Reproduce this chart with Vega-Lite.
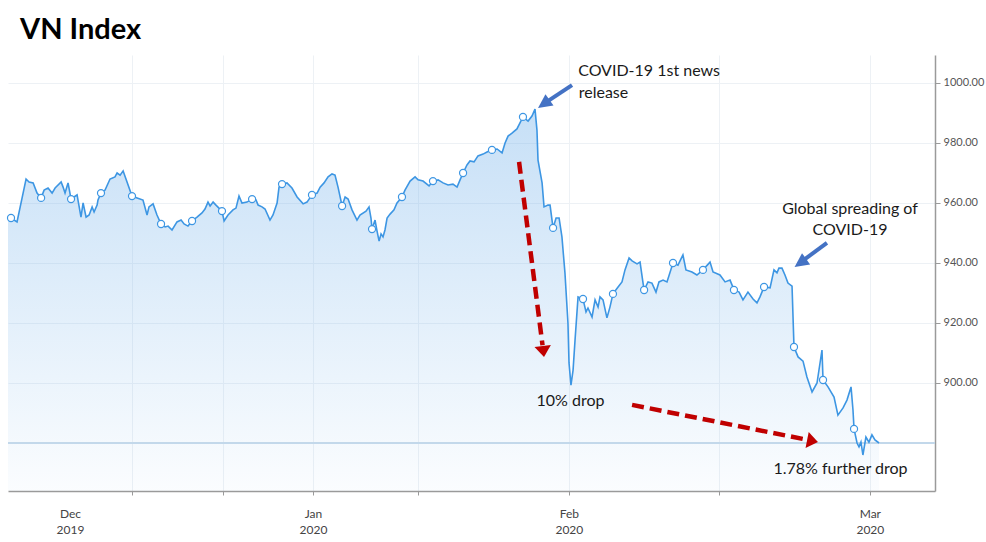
{
  "$schema": "https://vega.github.io/schema/vega-lite/v6.json",
  "width": 927,
  "height": 436,
  "autosize": {"type": "none"},
  "padding": {"left": 8, "top": 55, "right": 51, "bottom": 51},
  "background": "white",
  "config": {"view": {"stroke": null}, "font": "Lato"},
  "title": {"text": "VN Index", "anchor": "start", "frame": "group", "offset": 11, "baseline": "alphabetic", "dx": 12, "dy": 24, "fontSize": 29, "font": "Lato", "fontWeight": "bold", "color": "#000000"},
  "datasets": {
    "vn": [
      {"t": -20.27, "vn": 955.3}, {"t": -20.07, "vn": 955.0, "m": 1}, {"t": -19.67, "vn": 953.7}, {"t": -19.07, "vn": 968.0}, {"t": -18.87, "vn": 967.0}, {"t": -18.60, "vn": 966.7}, {"t": -18.34, "vn": 963.3}, {"t": -18.07, "vn": 961.7, "m": 1}, {"t": -17.87, "vn": 964.3}, {"t": -17.61, "vn": 965.0}, {"t": -17.34, "vn": 963.3}, {"t": -17.14, "vn": 965.0}, {"t": -16.74, "vn": 967.0}, {"t": -16.61, "vn": 965.3}, {"t": -16.48, "vn": 963.3}, {"t": -16.28, "vn": 966.7}, {"t": -16.08, "vn": 961.3, "m": 1}, {"t": -15.88, "vn": 962.0}, {"t": -15.68, "vn": 962.7}, {"t": -15.42, "vn": 955.3}, {"t": -15.28, "vn": 960.0}, {"t": -15.08, "vn": 955.3}, {"t": -14.88, "vn": 956.0}, {"t": -14.68, "vn": 958.7}, {"t": -14.55, "vn": 957.0}, {"t": -14.35, "vn": 959.3}, {"t": -14.29, "vn": 961.0}, {"t": -14.09, "vn": 963.3, "m": 1}, {"t": -13.82, "vn": 964.3}, {"t": -13.49, "vn": 968.0}, {"t": -13.16, "vn": 968.7}, {"t": -13.02, "vn": 970.0}, {"t": -12.82, "vn": 969.3}, {"t": -12.62, "vn": 970.7}, {"t": -12.36, "vn": 967.0}, {"t": -12.03, "vn": 962.3, "m": 1}, {"t": -11.69, "vn": 961.7}, {"t": -11.30, "vn": 961.0}, {"t": -11.03, "vn": 956.0}, {"t": -10.90, "vn": 958.7}, {"t": -10.63, "vn": 959.7}, {"t": -10.37, "vn": 956.0}, {"t": -10.10, "vn": 953.0, "m": 1}, {"t": -9.83, "vn": 952.0}, {"t": -9.63, "vn": 952.3}, {"t": -9.37, "vn": 951.0}, {"t": -9.04, "vn": 953.7}, {"t": -8.77, "vn": 954.3}, {"t": -8.57, "vn": 953.0}, {"t": -8.31, "vn": 952.3}, {"t": -8.04, "vn": 954.0, "m": 1}, {"t": -7.71, "vn": 955.3}, {"t": -7.38, "vn": 956.7}, {"t": -7.18, "vn": 958.0}, {"t": -6.98, "vn": 960.3}, {"t": -6.84, "vn": 959.0}, {"t": -6.64, "vn": 960.3}, {"t": -6.45, "vn": 959.3}, {"t": -6.05, "vn": 957.3, "m": 1}, {"t": -5.91, "vn": 954.0}, {"t": -5.65, "vn": 956.0}, {"t": -5.32, "vn": 957.7}, {"t": -5.12, "vn": 958.3}, {"t": -4.92, "vn": 962.3}, {"t": -4.72, "vn": 960.0}, {"t": -4.39, "vn": 960.3}, {"t": -4.05, "vn": 961.3, "m": 1}, {"t": -3.79, "vn": 961.0}, {"t": -3.65, "vn": 959.3}, {"t": -3.39, "vn": 958.7}, {"t": -3.19, "vn": 958.0}, {"t": -2.86, "vn": 954.3}, {"t": -2.66, "vn": 956.0}, {"t": -2.39, "vn": 960.0}, {"t": -2.26, "vn": 965.3}, {"t": -2.06, "vn": 966.3, "m": 1}, {"t": -1.73, "vn": 966.7}, {"t": -1.40, "vn": 965.0}, {"t": -1.06, "vn": 962.0}, {"t": -0.66, "vn": 959.7}, {"t": -0.40, "vn": 960.3}, {"t": -0.07, "vn": 962.7, "m": 1}, {"t": 0.27, "vn": 963.3}, {"t": 0.47, "vn": 965.3}, {"t": 0.73, "vn": 966.7}, {"t": 1.00, "vn": 968.7}, {"t": 1.26, "vn": 969.7}, {"t": 1.46, "vn": 969.3}, {"t": 1.66, "vn": 965.3}, {"t": 1.93, "vn": 959.0, "m": 1}, {"t": 2.13, "vn": 962.0}, {"t": 2.33, "vn": 961.3}, {"t": 2.59, "vn": 957.7}, {"t": 2.92, "vn": 954.3}, {"t": 3.12, "vn": 956.0}, {"t": 3.52, "vn": 957.3}, {"t": 3.72, "vn": 958.7}, {"t": 3.85, "vn": 955.0}, {"t": 3.92, "vn": 951.3, "m": 1}, {"t": 4.12, "vn": 954.3}, {"t": 4.25, "vn": 950.7}, {"t": 4.39, "vn": 947.3}, {"t": 4.52, "vn": 949.7}, {"t": 4.65, "vn": 948.7}, {"t": 4.78, "vn": 951.0}, {"t": 4.92, "vn": 955.0}, {"t": 5.12, "vn": 956.3}, {"t": 5.38, "vn": 957.7}, {"t": 5.58, "vn": 960.0}, {"t": 5.91, "vn": 962.0, "m": 1}, {"t": 6.11, "vn": 964.3}, {"t": 6.45, "vn": 967.3}, {"t": 6.78, "vn": 968.7}, {"t": 6.98, "vn": 967.7}, {"t": 7.31, "vn": 967.3}, {"t": 7.71, "vn": 965.7}, {"t": 7.97, "vn": 967.3, "m": 1}, {"t": 8.31, "vn": 967.7}, {"t": 8.64, "vn": 966.7}, {"t": 8.97, "vn": 966.0}, {"t": 9.30, "vn": 966.3}, {"t": 9.57, "vn": 965.3}, {"t": 9.77, "vn": 967.7}, {"t": 9.97, "vn": 970.0, "m": 1}, {"t": 10.23, "vn": 972.7}, {"t": 10.43, "vn": 974.0}, {"t": 10.70, "vn": 973.7}, {"t": 10.96, "vn": 975.7}, {"t": 11.30, "vn": 976.3}, {"t": 11.56, "vn": 977.0}, {"t": 11.89, "vn": 977.7, "m": 1}, {"t": 12.23, "vn": 978.0}, {"t": 12.56, "vn": 976.7}, {"t": 12.76, "vn": 980.0}, {"t": 12.96, "vn": 982.3}, {"t": 13.22, "vn": 983.3}, {"t": 13.55, "vn": 984.7}, {"t": 13.95, "vn": 988.7, "m": 1}, {"t": 14.29, "vn": 987.3}, {"t": 14.55, "vn": 989.0}, {"t": 14.75, "vn": 991.3}, {"t": 14.88, "vn": 984.3}, {"t": 14.95, "vn": 974.3}, {"t": 15.22, "vn": 966.7}, {"t": 15.35, "vn": 958.7}, {"t": 15.61, "vn": 959.3}, {"t": 15.75, "vn": 959.3}, {"t": 15.88, "vn": 954.3}, {"t": 15.95, "vn": 951.7, "m": 1}, {"t": 16.15, "vn": 955.0}, {"t": 16.35, "vn": 955.0}, {"t": 16.54, "vn": 948.7}, {"t": 16.74, "vn": 936.7}, {"t": 16.94, "vn": 920.0}, {"t": 17.01, "vn": 906.7}, {"t": 17.14, "vn": 899.3}, {"t": 17.28, "vn": 904.3}, {"t": 17.41, "vn": 914.3}, {"t": 17.61, "vn": 928.7}, {"t": 17.94, "vn": 928.0, "m": 1}, {"t": 18.14, "vn": 923.7}, {"t": 18.27, "vn": 925.0}, {"t": 18.54, "vn": 922.0}, {"t": 18.74, "vn": 927.7}, {"t": 18.94, "vn": 925.3}, {"t": 19.07, "vn": 928.7}, {"t": 19.27, "vn": 927.7}, {"t": 19.53, "vn": 921.7}, {"t": 19.73, "vn": 925.3}, {"t": 19.93, "vn": 929.7, "m": 1}, {"t": 20.27, "vn": 932.0}, {"t": 20.53, "vn": 933.7}, {"t": 20.73, "vn": 937.7}, {"t": 21.00, "vn": 941.7}, {"t": 21.20, "vn": 940.7}, {"t": 21.53, "vn": 939.7}, {"t": 21.73, "vn": 940.3}, {"t": 21.93, "vn": 933.3}, {"t": 22.00, "vn": 931.0, "m": 1}, {"t": 22.26, "vn": 933.7}, {"t": 22.52, "vn": 933.3}, {"t": 22.79, "vn": 930.3}, {"t": 22.99, "vn": 933.7}, {"t": 23.26, "vn": 934.3}, {"t": 23.52, "vn": 933.7}, {"t": 23.92, "vn": 940.0, "m": 1}, {"t": 24.25, "vn": 939.3}, {"t": 24.58, "vn": 942.7}, {"t": 24.78, "vn": 937.7}, {"t": 25.18, "vn": 937.0}, {"t": 25.51, "vn": 936.0}, {"t": 25.91, "vn": 937.7, "m": 1}, {"t": 26.38, "vn": 940.3}, {"t": 26.58, "vn": 937.0}, {"t": 27.04, "vn": 936.0}, {"t": 27.38, "vn": 933.7}, {"t": 27.71, "vn": 934.3}, {"t": 27.84, "vn": 932.7}, {"t": 27.97, "vn": 931.0, "m": 1}, {"t": 28.31, "vn": 930.3}, {"t": 28.57, "vn": 927.7}, {"t": 28.90, "vn": 930.3}, {"t": 29.24, "vn": 928.0}, {"t": 29.50, "vn": 926.7}, {"t": 29.70, "vn": 928.7}, {"t": 29.97, "vn": 932.0, "m": 1}, {"t": 30.37, "vn": 931.7}, {"t": 30.63, "vn": 937.7}, {"t": 30.83, "vn": 936.7}, {"t": 30.96, "vn": 938.3}, {"t": 31.16, "vn": 938.3}, {"t": 31.36, "vn": 936.0}, {"t": 31.56, "vn": 933.3}, {"t": 31.83, "vn": 932.3}, {"t": 31.96, "vn": 912.0, "m": 1}, {"t": 32.23, "vn": 908.7}, {"t": 32.56, "vn": 907.3}, {"t": 32.82, "vn": 902.0}, {"t": 33.16, "vn": 897.0}, {"t": 33.49, "vn": 900.0}, {"t": 33.82, "vn": 911.0}, {"t": 33.89, "vn": 901.0, "m": 1}, {"t": 34.22, "vn": 898.7}, {"t": 34.62, "vn": 895.3}, {"t": 34.88, "vn": 889.3}, {"t": 35.22, "vn": 891.7}, {"t": 35.48, "vn": 894.3}, {"t": 35.75, "vn": 898.7}, {"t": 35.88, "vn": 891.0}, {"t": 35.95, "vn": 884.7, "m": 1}, {"t": 36.15, "vn": 880.0}, {"t": 36.28, "vn": 878.7}, {"t": 36.41, "vn": 880.3}, {"t": 36.54, "vn": 876.0}, {"t": 36.74, "vn": 882.0}, {"t": 36.94, "vn": 880.3}, {"t": 37.14, "vn": 882.7}, {"t": 37.34, "vn": 881.0}, {"t": 37.61, "vn": 880.0}
    ],
    "notes": [
      {"t": 22.33, "vn": 1004.0, "label": "COVID-19 1st news"},
      {"t": 19.30, "vn": 996.7, "label": "release"},
      {"t": 35.68, "vn": 958.0, "label": "Global spreading of"},
      {"t": 35.68, "vn": 951.0, "label": "COVID-19"},
      {"t": 17.11, "vn": 894.0, "label": "10% drop"},
      {"t": 35.05, "vn": 871.3, "label": "1.78% further drop"}
    ],
    "arrows": [
      {"id": "news", "kind": "event", "x0": 17.21, "y0": 999.3, "x1": 15.50, "y1": 993.6, "xt": 14.95, "yt": 991.7},
      {"id": "global", "kind": "event", "x0": 34.15, "y0": 946.7, "x1": 32.50, "y1": 940.6, "xt": 32.00, "yt": 938.7},
      {"id": "drop1", "kind": "drop", "x0": 13.69, "y0": 973.7, "x1": 15.25, "y1": 912.6, "xt": 15.35, "yt": 908.7},
      {"id": "drop2", "kind": "drop", "x0": 21.20, "y0": 892.7, "x1": 32.90, "y1": 881.0, "xt": 33.55, "yt": 880.3}
    ]
  },
  "layer": [
    {
      "data": {"name": "vn"},
      "mark": {"type": "area", "color": {"gradient": "linear", "x1": 0, "y1": 0, "x2": 0, "y2": 1, "stops": [{"offset": 0, "color": "rgba(120,180,235,0.42)"}, {"offset": 1, "color": "rgba(120,180,235,0.03)"}]}},
      "encoding": {
        "x": {"field": "t", "type": "quantitative", "scale": {"domain": [-20.27, 41.33], "nice": false, "zero": false},
          "axis": {"values": [-16.15, -12, -6, 0, 7, 17, 27, 37], "labelExpr": "datum.value < -15 ? ['Dec','2019'] : datum.value == 0 ? ['Jan','2020'] : datum.value == 17 ? ['Feb','2020'] : datum.value == 37 ? ['Mar','2020'] : ''", "title": null, "grid": true, "gridColor": "#edf1f5", "gridOpacity": {"condition": {"test": "datum.value < -15", "value": 0}, "value": 1}, "tickOpacity": {"condition": {"test": "datum.value < -15", "value": 0}, "value": 1}, "domainColor": "#9a9a9a", "domainWidth": 1.5, "tickColor": "#9a9a9a", "tickSize": 4, "labelPadding": 13, "labelFontSize": 12, "labelColor": "#444444", "labelLineHeight": 16, "labelFont": "Lato", "labelOverlap": false, "labelFlush": false, "labelBound": false}},
        "y": {"field": "vn", "type": "quantitative", "scale": {"domain": [864, 1009.33], "nice": false, "zero": false},
          "axis": {"orient": "right", "values": [900, 920, 940, 960, 980, 1000], "format": ".2f", "title": null, "grid": true, "gridColor": "#edf1f5", "domainColor": "#9a9a9a", "domainWidth": 1.5, "tickColor": "#9a9a9a", "tickSize": 5, "labelPadding": 3, "labelFontSize": 11, "labelColor": "#555555", "labelFont": "Lato"}},
        "y2": {"datum": 864}
      }
    },
    {
      "data": {"name": "vn"},
      "mark": {"type": "rule", "color": "#c2d9ea", "strokeWidth": 1},
      "encoding": {"y": {"datum": 880, "type": "quantitative", "scale": {"domain": [864, 1009.33], "nice": false, "zero": false}}}
    },
    {
      "data": {"name": "vn"},
      "mark": {"type": "line", "color": "#3d96e3", "strokeWidth": 1.6},
      "encoding": {
        "x": {"field": "t", "type": "quantitative", "scale": {"domain": [-20.27, 41.33], "nice": false, "zero": false}},
        "y": {"field": "vn", "type": "quantitative", "scale": {"domain": [864, 1009.33], "nice": false, "zero": false}}
      }
    },
    {
      "data": {"name": "vn"},
      "transform": [{"filter": "datum.m == 1"}],
      "mark": {"type": "point", "shape": "circle", "filled": true, "fill": "white", "stroke": "#3d96e3", "strokeWidth": 1.2, "size": 50, "opacity": 1},
      "encoding": {
        "x": {"field": "t", "type": "quantitative", "scale": {"domain": [-20.27, 41.33], "nice": false, "zero": false}},
        "y": {"field": "vn", "type": "quantitative", "scale": {"domain": [864, 1009.33], "nice": false, "zero": false}}
      }
    },
    {
      "data": {"name": "notes"},
      "mark": {"type": "text", "align": "center", "baseline": "middle", "font": "Lato", "fontSize": 16, "color": "#1a1a1a"},
      "encoding": {
        "x": {"field": "t", "type": "quantitative", "scale": {"domain": [-20.27, 41.33], "nice": false, "zero": false}},
        "y": {"field": "vn", "type": "quantitative", "scale": {"domain": [864, 1009.33], "nice": false, "zero": false}},
        "text": {"field": "label"}
      }
    },
    {
      "data": {"name": "arrows"},
      "transform": [{"filter": "datum.kind == 'event'"}],
      "mark": {"type": "rule", "color": "#4472c4", "strokeWidth": 4},
      "encoding": {
        "x": {"field": "x0", "type": "quantitative", "scale": {"domain": [-20.27, 41.33], "nice": false, "zero": false}},
        "y": {"field": "y0", "type": "quantitative", "scale": {"domain": [864, 1009.33], "nice": false, "zero": false}},
        "x2": {"field": "x1"},
        "y2": {"field": "y1"}
      }
    },
    {
      "data": {"name": "arrows"},
      "transform": [{"filter": "datum.kind == 'drop'"}],
      "mark": {"type": "rule", "color": "#c00000", "strokeWidth": 4.5, "strokeDash": [12, 6]},
      "encoding": {
        "x": {"field": "x0", "type": "quantitative", "scale": {"domain": [-20.27, 41.33], "nice": false, "zero": false}},
        "y": {"field": "y0", "type": "quantitative", "scale": {"domain": [864, 1009.33], "nice": false, "zero": false}},
        "x2": {"field": "x1"},
        "y2": {"field": "y1"}
      }
    },
    {
      "data": {"name": "arrows"},
      "transform": [{"filter": "datum.kind == 'event'"}],
      "mark": {"type": "point", "shape": "M0,0L0.5,1L-0.5,1Z", "filled": true, "color": "#4472c4", "opacity": 1, "size": 784, "angle": 235},
      "encoding": {
        "x": {"field": "xt", "type": "quantitative", "scale": {"domain": [-20.27, 41.33], "nice": false, "zero": false}},
        "y": {"field": "yt", "type": "quantitative", "scale": {"domain": [864, 1009.33], "nice": false, "zero": false}}
      }
    },
    {
      "data": {"name": "arrows"},
      "transform": [{"filter": "datum.id == 'drop1'"}],
      "mark": {"type": "point", "shape": "M0,0L0.75,1L-0.75,1Z", "filled": true, "color": "#c00000", "opacity": 1, "size": 484, "angle": 173},
      "encoding": {
        "x": {"field": "xt", "type": "quantitative", "scale": {"domain": [-20.27, 41.33], "nice": false, "zero": false}},
        "y": {"field": "yt", "type": "quantitative", "scale": {"domain": [864, 1009.33], "nice": false, "zero": false}}
      }
    },
    {
      "data": {"name": "arrows"},
      "transform": [{"filter": "datum.id == 'drop2'"}],
      "mark": {"type": "point", "shape": "M0,0L0.75,1L-0.75,1Z", "filled": true, "color": "#c00000", "opacity": 1, "size": 484, "angle": 101},
      "encoding": {
        "x": {"field": "xt", "type": "quantitative", "scale": {"domain": [-20.27, 41.33], "nice": false, "zero": false}},
        "y": {"field": "yt", "type": "quantitative", "scale": {"domain": [864, 1009.33], "nice": false, "zero": false}}
      }
    }
  ]
}
